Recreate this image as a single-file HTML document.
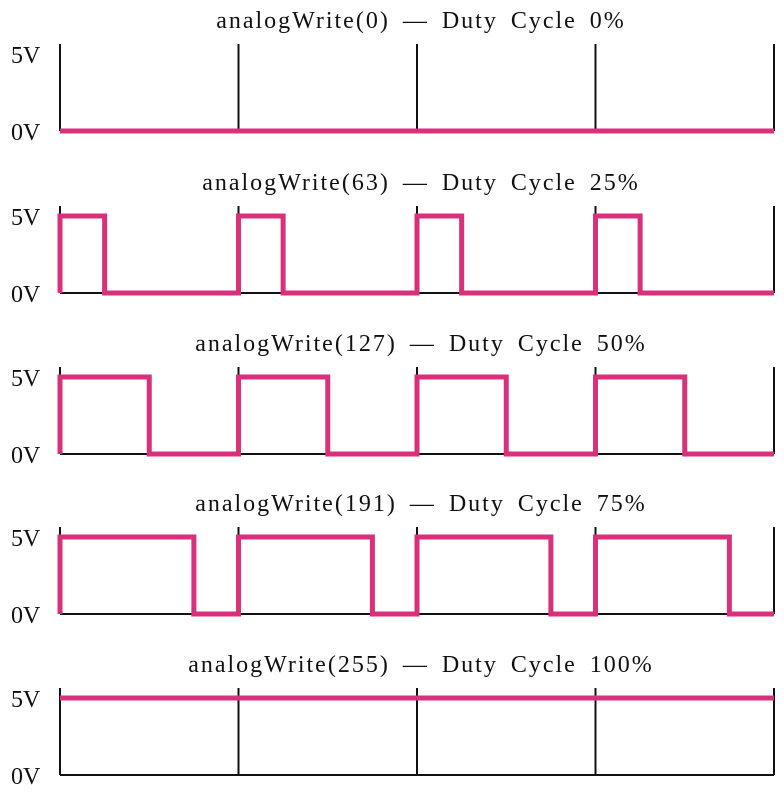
<!DOCTYPE html>
<html><head><meta charset="utf-8"><style>
html,body{margin:0;padding:0;background:#fff;}
svg{display:block;}
text{font-family:"Liberation Serif",serif;fill:#111;}
</style></head><body>
<svg id="chart" width="784" height="792" viewBox="0 0 784 792" xmlns="http://www.w3.org/2000/svg"></svg>
<script>
const titles = ["analogWrite(0) \u2014 Duty Cycle 0%","analogWrite(63) \u2014 Duty Cycle 25%","analogWrite(127) \u2014 Duty Cycle 50%","analogWrite(191) \u2014 Duty Cycle 75%","analogWrite(255) \u2014 Duty Cycle 100%"];
const dutyCycles = [0, 0.25, 0.5, 0.75, 1];
const periods = 4;
const yLabels = ["5V","0V"];

const svg = document.getElementById('chart');
const NS = 'http://www.w3.org/2000/svg';
const x0 = 60, x1 = 774;
const baselines = [131, 293, 454, 614, 775];
const highOff = 77, tickOff = 87;
const xScale = t => x0 + (x1 - x0) * t / periods;
function mk(tag, attrs){const e=document.createElementNS(NS,tag);for(const k in attrs)e.setAttribute(k,attrs[k]);svg.appendChild(e);return e;}

dutyCycles.forEach((d, i) => {
  const base = baselines[i], high = base - highOff;
  const title = mk('text',{x:(x0+x1)/2 + 4, y: base - 103, 'text-anchor':'middle','font-size':'24','letter-spacing':'2','word-spacing':'5'});
  title.textContent = titles[i];
  
  
  const l5 = mk('text',{x:11, y: high + 9, 'font-size':'24'});
  l5.textContent = yLabels[0];
  
  
  const l0 = mk('text',{x:11, y: base + 9, 'font-size':'24'});
  l0.textContent = yLabels[1];
  
  
  const ax = mk('line',{x1:x0,y1:base,x2:x1,y2:base,stroke:'#111','stroke-width':2});
  
  
  for (let p = 0; p <= periods; p++) {
    const g = mk('line',{x1:xScale(p),y1:base - tickOff,x2:xScale(p),y2:base,stroke:'#111','stroke-width':2});
    
    
  }
  let pts = [];
  if (d <= 0) { pts = [[xScale(0),base],[xScale(periods),base]]; }
  else if (d >= 1) { pts = [[xScale(0),high],[xScale(periods),high]]; }
  else {
    pts.push([xScale(0),base]);
    for (let p = 0; p < periods; p++) {
      pts.push([xScale(p),high],[xScale(p+d),high],[xScale(p+d),base],[xScale(p+1),base]);
    }
  }
  const wave = mk('polyline',{points:pts.map(q=>q.join(',')).join(' '),fill:'none',stroke:'#d8307a','stroke-width':5,'stroke-linejoin':'miter'});
  
  
});
</script>
</body></html>
